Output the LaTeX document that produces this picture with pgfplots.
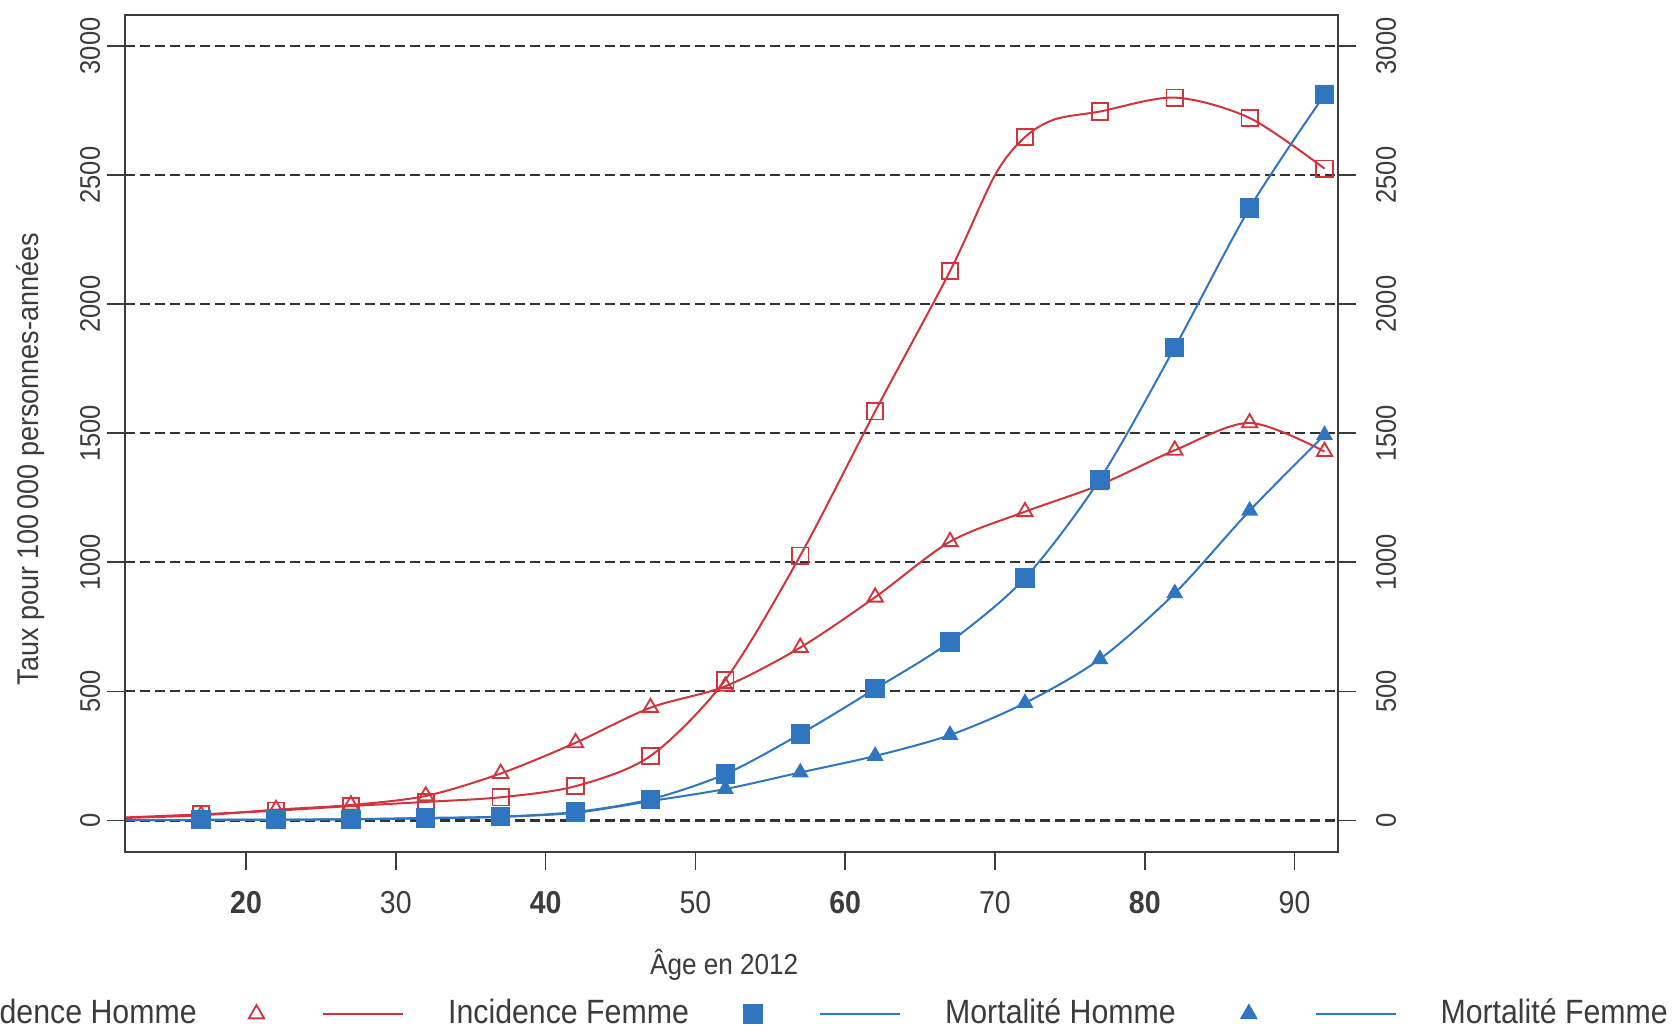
\documentclass[border=0pt]{standalone}
\usepackage{fontspec}
\setmainfont{Liberation Sans}[FakeStretch=0.9]
\usepackage{pgfplots}
\pgfplotsset{compat=1.18}
\definecolor{cred}{RGB}{208,52,60}
\definecolor{cblue}{RGB}{47,117,192}
\definecolor{txt}{RGB}{60,60,60}

\begin{document}
\begin{tikzpicture}
\useasboundingbox (0,0) rectangle (502.5pt,309.9pt);
\begin{axis}[
 at={(37.5pt,54.3pt)}, anchor=south west,
 width=363.9pt, height=251.1pt, scale only axis,
 xmin=11.92, xmax=92.9, ymin=-122, ymax=3120,
 axis line style={line width=0.8pt, color=txt},
 xtick={20,30,...,90},
 xticklabels={\textbf{20},30,\textbf{40},50,\textbf{60},70,\textbf{80},90},
 ytick={0,500,...,3000},
 xtick pos=bottom, ytick pos=both,
 tick align=outside,
 major tick length=5.4pt,
 tick style={line width=0.5pt, color=txt},
 ymajorgrids,
 major grid style={dash pattern=on 3pt off 1.5pt, line width=0.65pt, color=black!80},
 /pgf/number format/assume math mode=true,
 /pgf/number format/1000 sep={},
 yticklabel style={xshift=1.5pt, rotate=90, anchor=south, font=\fontsize{8.5}{10}\selectfont, color=txt},
 xticklabel style={font=\fontsize{9.5}{11}\selectfont, color=txt, yshift=-3pt},
 ylabel={Taux pour 100\,000 personnes-années},
 ylabel style={at={(axis description cs:-0.0775,0.4695)}, anchor=center, font=\fontsize{9}{11}\selectfont, color=txt},
 xlabel={Âge en 2012},
 xlabel style={at={(axis description cs:0.494,-0.135)}, anchor=center, font=\fontsize{8.7}{11}\selectfont, color=txt},
 legend columns=4,
 legend style={at={(axis description cs:-0.3075,-0.1935)}, anchor=west, draw=none, fill=none, inner sep=0pt,
   nodes={inner sep=0pt, text=txt, font=\fontsize{10.1}{11}\selectfont},
   /tikz/every odd column/.style={column sep=0pt}, /tikz/every even column/.style={column sep=0pt}},
 legend image code/.code={
   \path[draw=none, fill=none] (-2.1pt,-2.5pt) rectangle (57.5pt,2.5pt);
   \draw[#1, mark=none] (20.1pt,0pt) -- (44.1pt,0pt);
   \draw[#1, only marks] plot coordinates {(0pt,0pt)};
 },
]
% Red squares (line + markers)
\addplot[cred, line width=0.6pt, smooth, tension=0.5, forget plot] coordinates {
 (12,12) (17,24) (22,38) (27,56) (32,72) (37,90) (42,133) (47,250) (52,545) (57,1026) (62,1585) (67,2128) (70,2500) (72,2647) (74,2716) (77,2746) (82,2800) (87,2721) (92,2525)};
\addplot[cred, only marks, mark=square, mark size=2.45pt, mark options={line width=0.55pt}, forget plot] coordinates {
 (17,24) (22,38) (27,56) (32,72) (37,90) (42,133) (47,250) (52,545) (57,1026) (62,1585) (67,2128) (72,2647) (77,2746) (82,2800) (87,2721) (92,2525)};
% Red triangles
\addplot[cred, line width=0.6pt, smooth, tension=0.5, forget plot] coordinates {
 (12,10) (17,20) (22,42) (27,60) (32,95) (37,182) (42,301) (47,437) (52,520) (57,670) (62,865) (67,1080) (72,1196) (77,1300) (82,1434) (87,1540) (92,1429)};
\addplot[cred, only marks, mark=triangle, mark size=2.65pt, mark options={line width=0.55pt}, forget plot] coordinates {
 (17,20) (22,42) (27,60) (32,95) (37,182) (42,301) (47,437) (52,520) (57,670) (62,865) (67,1080) (72,1196) (77,1300) (82,1434) (87,1540) (92,1429)};
% Blue squares
\addplot[cblue, line width=0.6pt, smooth, tension=0.5, forget plot] coordinates {
 (12,1) (17,3) (22,3) (27,5) (32,10) (37,15) (42,33) (47,82) (52,180) (57,335) (62,510) (67,692) (72,939) (77,1322) (82,1832) (87,2372) (92,2811)};
\addplot[cblue, only marks, mark=square*, mark size=2.7pt, forget plot] coordinates {
 (17,3) (22,3) (27,5) (32,10) (37,15) (42,33) (47,82) (52,180) (57,335) (62,510) (67,692) (72,939) (77,1322) (82,1832) (87,2372) (92,2811)};
% Blue triangles
\addplot[cblue, line width=0.6pt, smooth, tension=0.5, forget plot] coordinates {
 (12,1) (17,2) (22,3) (27,5) (32,8) (37,14) (42,30) (47,75) (52,122) (57,186) (62,250) (67,331) (72,455) (77,625) (82,880) (87,1200) (92,1493)};
\addplot[cblue, only marks, mark=triangle*, mark size=2.55pt, forget plot] coordinates {
 (17,2) (22,3) (27,5) (32,8) (37,14) (42,30) (47,75) (52,122) (57,186) (62,250) (67,331) (72,455) (77,625) (82,880) (87,1200) (92,1493)};
% Legend
\addlegendimage{cred, line width=0.6pt, mark=square, mark size=2.45pt, mark options={line width=0.55pt}}
\addlegendentry{\makebox[88.9pt][l]{Incidence Homme}}
\addlegendimage{cred, line width=0.6pt, mark=triangle, mark size=2.65pt, mark options={line width=0.55pt}}
\addlegendentry{\makebox[88.9pt][l]{Incidence Femme}}
\addlegendimage{cblue, line width=0.6pt, mark=square*, mark size=2.7pt}
\addlegendentry{\makebox[88.9pt][l]{Mortalité Homme}}
\addlegendimage{cblue, line width=0.6pt, mark=triangle*, mark size=2.55pt}
\addlegendentry{\makebox[88.9pt][l]{Mortalité Femme}}
\end{axis}
\begin{axis}[
 at={(37.5pt,54.3pt)}, anchor=south west,
 width=363.9pt, height=251.1pt, scale only axis,
 xmin=11.92, xmax=92.9, ymin=-122, ymax=3120,
 hide x axis, axis y line*=right, y axis line style={draw=none},
 ytick={0,500,...,3000}, major tick length=0pt,
 /pgf/number format/assume math mode=true,
 /pgf/number format/1000 sep={},
 yticklabel style={xshift=7.9pt, rotate=90, anchor=north, font=\fontsize{8.5}{10}\selectfont, color=txt},
]
\addplot[draw=none, forget plot] coordinates {(20,0) (90,3000)};
\end{axis}
\end{tikzpicture}
\end{document}
